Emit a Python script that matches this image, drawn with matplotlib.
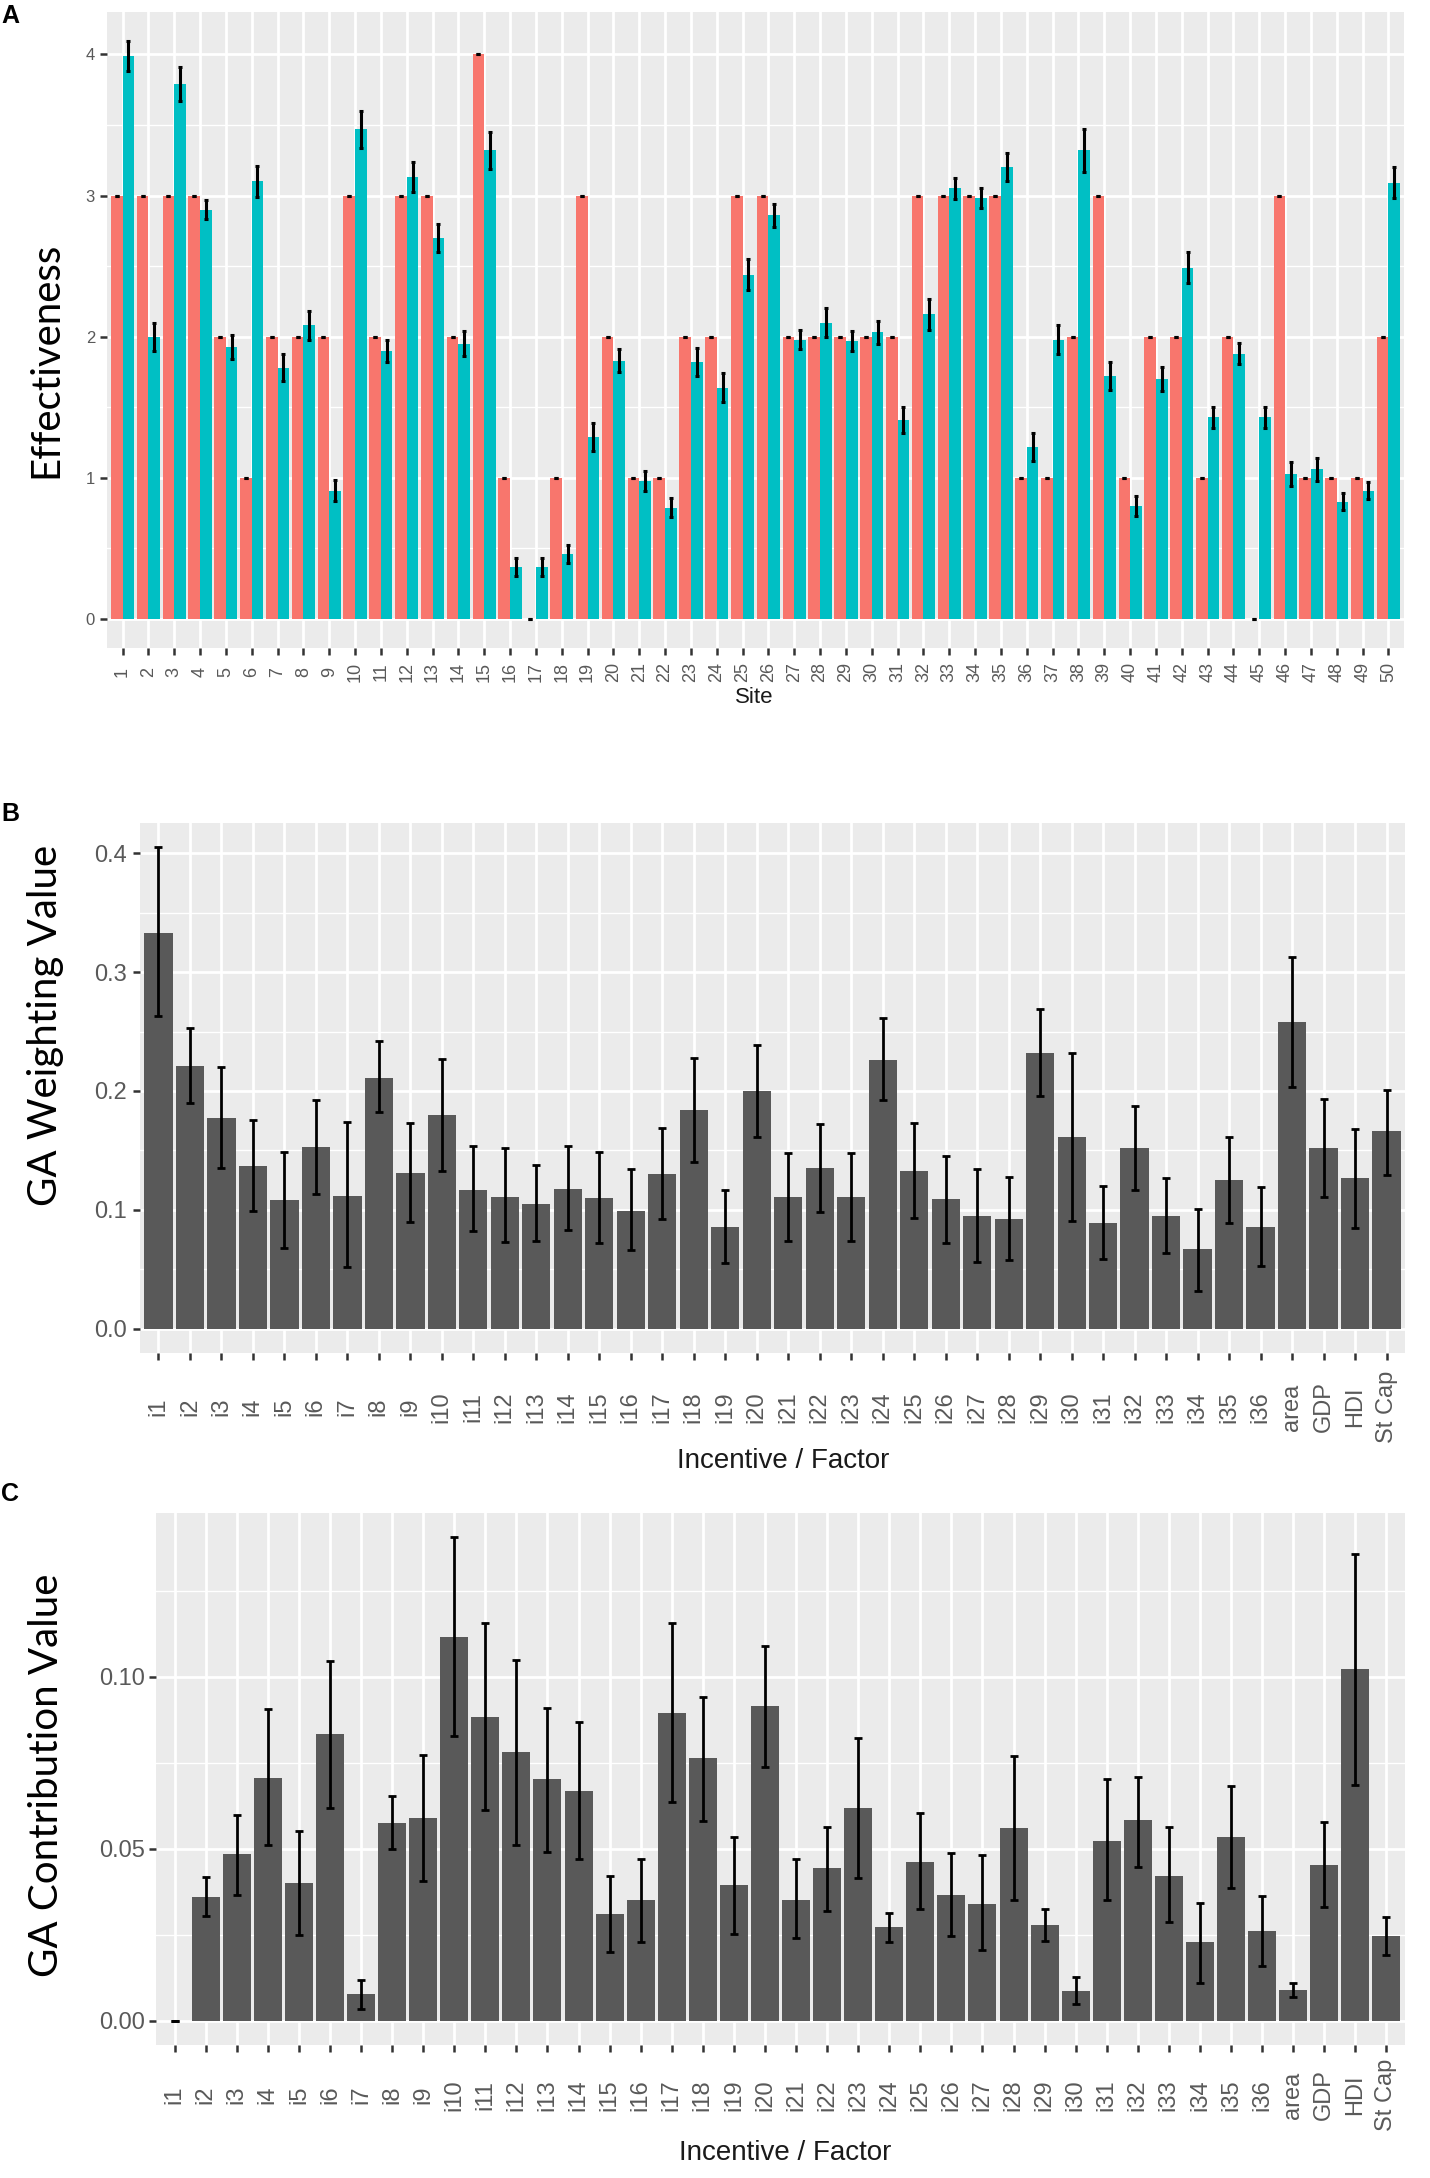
import matplotlib
matplotlib.use("Agg")
import matplotlib.pyplot as plt
import numpy as np

# ---- panel A: effectiveness per site ----
sites = [str(i) for i in range(1, 51)]
observed = [3, 3, 3, 3, 2, 1, 2, 2, 2, 3, 2, 3, 3, 2, 4, 1, 0, 1, 3, 2,
            1, 1, 2, 2, 3, 3, 2, 2, 2, 2, 2, 3, 3, 3, 3, 1, 1, 2, 3, 1,
            2, 2, 1, 2, 0, 3, 1, 1, 1, 2]
predicted = [3.99, 2.0, 3.79, 2.9, 1.93, 3.1, 1.78, 2.08, 0.91, 3.47,
             1.9, 3.13, 2.7, 1.95, 3.32, 0.37, 0.37, 0.46, 1.29, 1.83,
             0.98, 0.79, 1.82, 1.64, 2.44, 2.86, 1.98, 2.1, 1.97, 2.03,
             1.41, 2.16, 3.05, 2.98, 3.2, 1.22, 1.98, 3.32, 1.72, 0.8,
             1.7, 2.49, 1.43, 1.88, 1.43, 1.03, 1.06, 0.83, 0.91, 3.09]
pred_err = [0.105, 0.1, 0.12, 0.065, 0.085, 0.11, 0.095, 0.1, 0.075, 0.13,
            0.08, 0.105, 0.1, 0.09, 0.13, 0.065, 0.065, 0.065, 0.1, 0.08,
            0.07, 0.07, 0.1, 0.1, 0.11, 0.08, 0.07, 0.1, 0.07, 0.08,
            0.095, 0.11, 0.075, 0.07, 0.1, 0.1, 0.1, 0.15, 0.1, 0.07,
            0.085, 0.11, 0.075, 0.075, 0.075, 0.085, 0.08, 0.06, 0.06, 0.11]

# ---- panels B and C: incentives / factors ----
factors = ["i1", "i2", "i3", "i4", "i5", "i6", "i7", "i8", "i9", "i10",
           "i11", "i12", "i13", "i14", "i15", "i16", "i17", "i18", "i19", "i20",
           "i21", "i22", "i23", "i24", "i25", "i26", "i27", "i28", "i29", "i30",
           "i31", "i32", "i33", "i34", "i35", "i36", "area", "GDP", "HDI", "St Cap"]
weight = [0.333, 0.221, 0.177, 0.137, 0.108, 0.153, 0.112, 0.211, 0.131, 0.180,
          0.117, 0.111, 0.105, 0.118, 0.110, 0.0995, 0.130, 0.184, 0.086, 0.200,
          0.111, 0.135, 0.111, 0.226, 0.133, 0.109, 0.0945, 0.0926, 0.232, 0.161,
          0.0887, 0.152, 0.0953, 0.0675, 0.125, 0.0856, 0.258, 0.152, 0.1265, 0.166]
weight_lo = [0.263, 0.19, 0.135, 0.099, 0.068, 0.113, 0.052, 0.182, 0.09, 0.133,
             0.082, 0.073, 0.074, 0.083, 0.072, 0.066, 0.092, 0.14, 0.055, 0.161,
             0.074, 0.098, 0.074, 0.192, 0.093, 0.072, 0.056, 0.058, 0.196, 0.091,
             0.059, 0.117, 0.064, 0.032, 0.089, 0.053, 0.203, 0.111, 0.085, 0.129]
weight_hi = [0.405, 0.253, 0.22, 0.176, 0.149, 0.192, 0.174, 0.242, 0.173, 0.227,
             0.154, 0.152, 0.138, 0.154, 0.149, 0.134, 0.169, 0.228, 0.117, 0.239,
             0.148, 0.172, 0.148, 0.261, 0.173, 0.145, 0.134, 0.128, 0.269, 0.232,
             0.12, 0.187, 0.127, 0.101, 0.161, 0.119, 0.313, 0.193, 0.168, 0.201]

contrib = [0.0, 0.0361, 0.0484, 0.0706, 0.040, 0.0834, 0.0077, 0.0574, 0.059, 0.1116,
           0.0883, 0.0782, 0.0703, 0.0669, 0.0312, 0.035, 0.0895, 0.0764, 0.0394, 0.0914,
           0.0351, 0.0443, 0.0619, 0.0272, 0.0463, 0.0365, 0.034, 0.0561, 0.0278, 0.0087,
           0.0524, 0.0583, 0.0422, 0.0228, 0.0533, 0.0262, 0.009, 0.0454, 0.1023, 0.0248]
contrib_lo = [0.0, 0.0305, 0.0366, 0.051, 0.025, 0.062, 0.0035, 0.050, 0.0406, 0.0828,
              0.0614, 0.051, 0.049, 0.047, 0.020, 0.023, 0.0635, 0.058, 0.0253, 0.0737,
              0.024, 0.032, 0.0414, 0.023, 0.0326, 0.0247, 0.0206, 0.0351, 0.0233, 0.0049,
              0.0351, 0.0448, 0.0287, 0.011, 0.0386, 0.0161, 0.0069, 0.0331, 0.0687, 0.0192]
contrib_hi = [0.0, 0.0417, 0.0598, 0.0905, 0.0553, 0.1046, 0.0118, 0.0655, 0.0774, 0.1406,
              0.1155, 0.105, 0.091, 0.087, 0.042, 0.047, 0.1155, 0.094, 0.0535, 0.109,
              0.0471, 0.0564, 0.0823, 0.0315, 0.0604, 0.0489, 0.0482, 0.0771, 0.0324, 0.0128,
              0.0703, 0.071, 0.0564, 0.0342, 0.0683, 0.0362, 0.011, 0.0578, 0.1357, 0.0301]

RED = "#F8766D"
CYAN = "#00BFC4"
BARGREY = "#595959"
PANEL = "#EBEBEB"
TICKTXT = "#595959"

plt.rcParams["font.family"] = ["Liberation Sans", "DejaVu Sans"]

W, H = 1430, 2178
fig = plt.figure(figsize=(W / 100, H / 100), dpi=100)


def box(l, t, r, b):
    return [l / W, 1 - b / H, (r - l) / W, (b - t) / H]


def ggstyle(ax, minor_y, xsize, ysize, xpad, ypad):
    ax.set_facecolor(PANEL)
    for s in ax.spines.values():
        s.set_visible(False)
    ax.set_axisbelow(True)
    ax.set_yticks(minor_y, minor=True)
    ax.grid(which="major", color="white", linewidth=2.0)
    ax.grid(which="minor", axis="y", color="white", linewidth=1.0)
    ax.tick_params(which="minor", length=0)
    ax.tick_params(which="major", length=5, width=1.8, color="#333333")
    ax.tick_params(axis="x", labelsize=xsize, labelcolor=TICKTXT, pad=xpad,
                   labelrotation=90)
    ax.tick_params(axis="y", labelsize=ysize, labelcolor=TICKTXT, pad=ypad)
    for lbl in ax.get_xticklabels():
        lbl.set_va("center")


# ---- A ----
axA = fig.add_axes(box(107, 12, 1404, 648))
x = np.arange(1, len(sites) + 1)
axA.bar(x - 0.225, observed, 0.45, color=RED, zorder=2)
axA.bar(x + 0.225, predicted, 0.45, color=CYAN, zorder=2)
axA.errorbar(x - 0.225, observed, yerr=np.zeros(len(observed)), fmt="none",
             ecolor="black", elinewidth=2.2, capsize=1.2, capthick=2.2, zorder=3)
axA.errorbar(x + 0.225, predicted, yerr=pred_err, fmt="none",
             ecolor="black", elinewidth=2.2, capsize=1.2, capthick=2.2, zorder=3)
axA.set_xlim(0.4, len(sites) + 0.6)
axA.set_ylim(-0.205, 4.3)
axA.set_xticks(x, sites)
axA.set_yticks([0, 1, 2, 3, 4])
ggstyle(axA, [0.5, 1.5, 2.5, 3.5], 13, 12, 12.3, 3.6)


def factor_panel(ax, vals, lo, hi, ylim, major, minor, fmt, xpad, ypad):
    xi = np.arange(1, len(factors) + 1)
    v = np.array(vals)
    err = [v - np.array(lo), np.array(hi) - v]
    ax.bar(xi, v, 0.9, color=BARGREY, zorder=2)
    ax.errorbar(xi, v, yerr=err, fmt="none", ecolor="black", elinewidth=2.0,
                capsize=2.8, capthick=2.0, zorder=3)
    ax.set_xlim(0.4, len(factors) + 0.6)
    ax.set_ylim(*ylim)
    ax.set_xticks(xi, factors)
    ax.set_yticks(major, [fmt.format(t) for t in major])
    ggstyle(ax, minor, 17, 17, xpad, ypad)


axB = fig.add_axes(box(139.5, 823, 1405.5, 1353))
factor_panel(axB, weight, weight_lo, weight_hi, (-0.0203, 0.4253),
             [0.0, 0.1, 0.2, 0.3, 0.4], [0.05, 0.15, 0.25, 0.35], "{:.1f}", 33.9, 4.2)

axC = fig.add_axes(box(156, 1513, 1405, 2045))
factor_panel(axC, contrib, contrib_lo, contrib_hi, (-0.0070, 0.1476),
             [0.0, 0.05, 0.10], [0.025, 0.075, 0.125], "{:.2f}", 31, 3)


def ftext(px, py, s, **kw):
    fig.text(px / W, 1 - py / H, s, **kw)


ylab = dict(family=["Lato", "DejaVu Sans"], fontsize=29, rotation=90,
            ha="center", va="center", color="black")
xlab = dict(ha="center", va="center", color="#1a1a1a")

ftext(1, 16, "A", fontsize=18, fontweight="bold", ha="left", va="center")
ftext(46, 360, "Effectiveness", **ylab)
ftext(754, 698, "Site", fontsize=16, **xlab)

ftext(1, 814, "B", fontsize=18, fontweight="bold", ha="left", va="center")
ftext(46, 1025, "GA Weighting Value", **ylab)
ftext(783, 1461, "Incentive / Factor", fontsize=20, **xlab)

ftext(1, 1494, "C", fontsize=18, fontweight="bold", ha="left", va="center")
ftext(47, 1775, "GA Contribution Value", **ylab)
ftext(785, 2153, "Incentive / Factor", fontsize=20, **xlab)

fig.savefig("out.png", dpi=100, facecolor="white")
